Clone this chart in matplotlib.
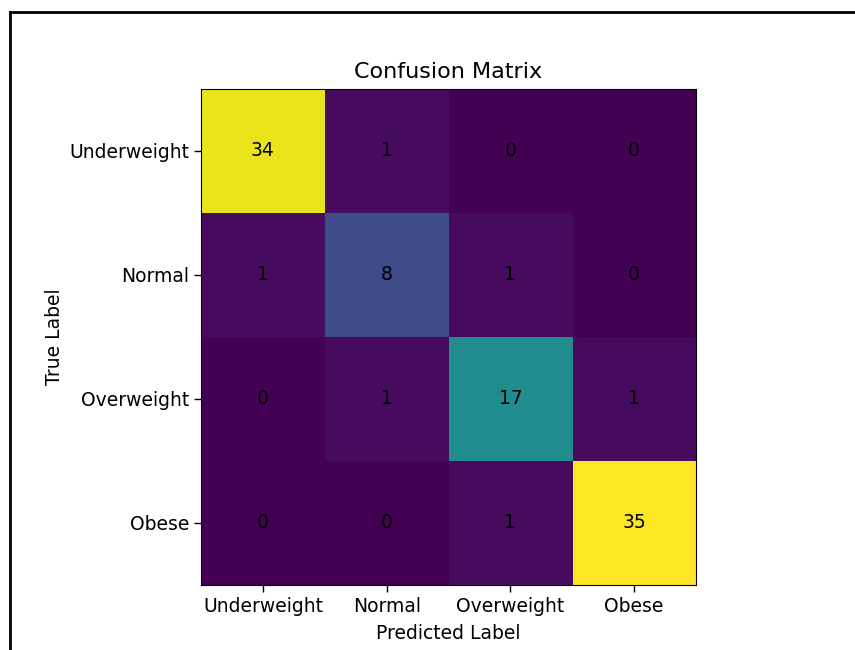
import matplotlib
matplotlib.use("Agg")
import matplotlib.pyplot as plt
import numpy as np
from matplotlib.lines import Line2D

classes = ["Underweight", "Normal", "Overweight", "Obese"]
cm = np.array([
    [34, 1, 0, 0],
    [1, 8, 1, 0],
    [0, 1, 17, 1],
    [0, 0, 1, 35],
])

fig = plt.figure(figsize=(8.55, 6.5), dpi=100)
ax = fig.add_axes([201 / 855, 1 - 585 / 650, 495 / 855, 496 / 650])
ax.imshow(cm, cmap="viridis", interpolation="nearest", aspect="auto")

for i in range(cm.shape[0]):
    for j in range(cm.shape[1]):
        ax.text(j, i, str(cm[i, j]), ha="center", va="center", color="black", fontsize=13.5)

ax.set_xticks(range(len(classes)))
ax.set_xticklabels(classes, fontsize=13.5)
ax.set_yticks(range(len(classes)))
ax.set_yticklabels(classes, fontsize=13.5)
ax.tick_params(length=5, width=1)
ax.set_xlabel("Predicted Label", fontsize=13.5, labelpad=6)
ax.set_ylabel("True Label", fontsize=13.5, labelpad=4)
ax.set_title("Confusion Matrix", fontsize=16, pad=8)

# outer frame along the left and top of the canvas
fig.add_artist(Line2D([10 / 855, 10 / 855], [0, 1 - 12 / 650], color="black", lw=2,
                      transform=fig.transFigure))
fig.add_artist(Line2D([10 / 855, 1], [1 - 12 / 650, 1 - 12 / 650], color="black", lw=2,
                      transform=fig.transFigure))

fig.savefig("out.png", dpi=100)
